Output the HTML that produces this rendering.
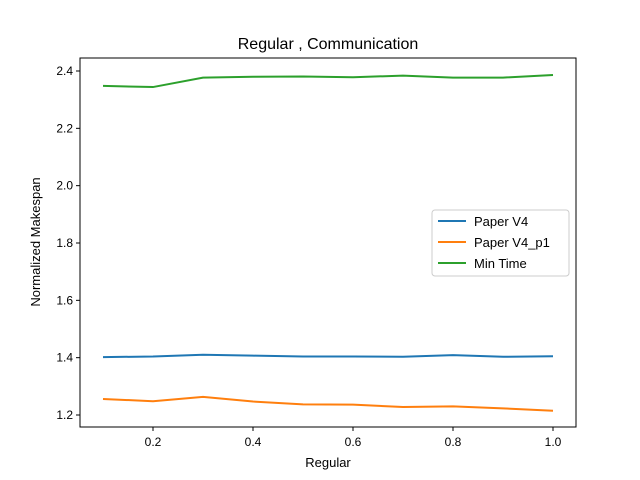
<!DOCTYPE html>
<html><head><meta charset="utf-8"><style>
body{margin:0;background:#fff}
svg{display:block;font-family:"Liberation Sans","DejaVu Sans",sans-serif}
</style></head><body>
<svg id="chart" width="640" height="480">
<rect x="0" y="0" width="640" height="480" fill="#fff"/>
<text x="328" y="49" font-size="16" text-anchor="middle">Regular , Communication</text>
<g id="plot"></g>
<rect x="80" y="58" width="496" height="369" fill="none" stroke="#000" stroke-width="1"/>
<text x="328" y="467" font-size="13" text-anchor="middle">Regular</text>
<text transform="translate(40,242) rotate(-90)" font-size="13" text-anchor="middle">Normalized Makespan</text>
<g>
<rect x="432" y="210" width="137" height="66" rx="3" fill="#fff" stroke="#ccc"/>
<line x1="438" y1="221" x2="466" y2="221" stroke="#1f77b4" stroke-width="2"/>
<text x="474" y="226" font-size="13">Paper V4</text>
<line x1="438" y1="242" x2="466" y2="242" stroke="#ff7f0e" stroke-width="2"/>
<text x="474" y="247" font-size="13">Paper V4_p1</text>
<line x1="438" y1="263" x2="466" y2="263" stroke="#2ca02c" stroke-width="2"/>
<text x="474" y="268" font-size="13">Min Time</text>
</g>
</svg>
<script>
const xValues=[0.1,0.2,0.3,0.4,0.5,0.6,0.7,0.8,0.9,1.0];
const paperV4=[1.402,1.404,1.410,1.407,1.404,1.404,1.403,1.409,1.403,1.405];
const paperV4p1=[1.256,1.248,1.263,1.247,1.237,1.236,1.228,1.230,1.223,1.215];
const minTime=[2.348,2.344,2.377,2.380,2.381,2.378,2.384,2.377,2.377,2.386];
const xTicks=[0.2,0.4,0.6,0.8,1.0];
const yTicks=[1.2,1.4,1.6,1.8,2.0,2.2,2.4];
const NS="http://www.w3.org/2000/svg";
function sx(v){return 103+(v-0.1)*500;}
function sy(v){return 415-(v-1.2)*286.67;}
const g=document.getElementById('plot');
function mk(tag,attrs){const e=document.createElementNS(NS,tag);for(const k in attrs)e.setAttribute(k,attrs[k]);g.appendChild(e);return e;}
xTicks.forEach(t=>{
  const l=mk('line',{x1:sx(t),x2:sx(t),y1:427,y2:431,stroke:'#000'});
  
  
  const tx=mk('text',{x:sx(t),y:446,'font-size':12,'text-anchor':'middle'});
  tx.textContent=t.toFixed(1);
  
  
});
yTicks.forEach(t=>{
  const l=mk('line',{x1:76,x2:80,y1:sy(t),y2:sy(t),stroke:'#000'});
  
  
  const tx=mk('text',{x:73,y:sy(t)+4,'font-size':12,'text-anchor':'end'});
  tx.textContent=t.toFixed(1);
  
  
});
function line(vals,color,name){
  const p=mk('polyline',{points:vals.map((v,i)=>sx(xValues[i])+','+sy(v)).join(' '),fill:'none',stroke:color,'stroke-width':2});
  
  
}
line(paperV4,'#1f77b4','line-paper-v4');
line(paperV4p1,'#ff7f0e','line-paper-v4-p1');
line(minTime,'#2ca02c','line-min-time');
</script>
</body></html>
